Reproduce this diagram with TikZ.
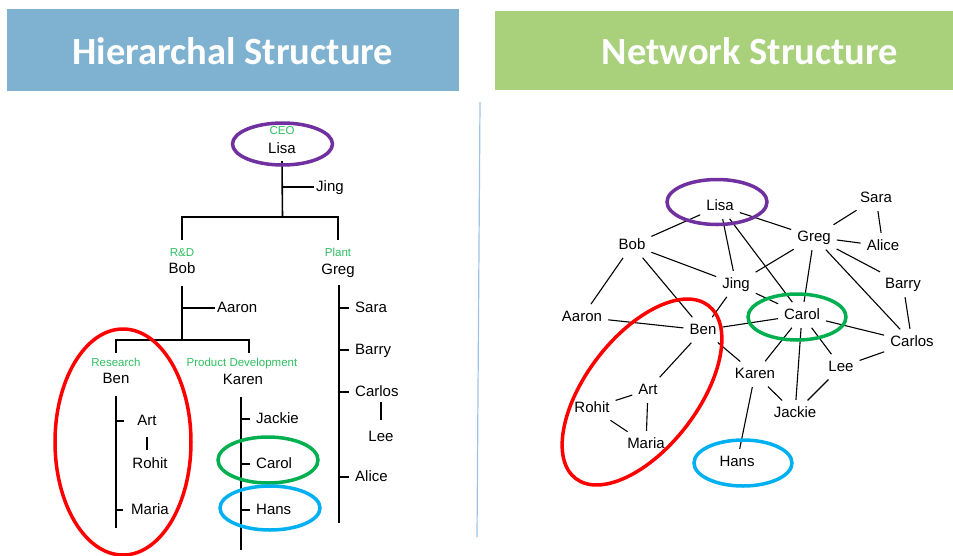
\documentclass[tikz,border=0pt]{standalone}
\usepackage{fontspec}
\setmainfont{Liberation Sans}
\newfontfamily\titlefont{Carlito}
\definecolor{hierblue}{RGB}{127,178,208}
\definecolor{netgreen}{RGB}{169,209,124}
\definecolor{deptgreen}{RGB}{46,190,96}
\definecolor{ringpurple}{RGB}{112,48,160}
\definecolor{ringred}{RGB}{255,0,0}
\definecolor{ringgreen}{RGB}{0,176,80}
\definecolor{ringblue}{RGB}{0,176,240}
\definecolor{sepblue}{RGB}{157,195,230}
\begin{document}
\begin{tikzpicture}[x=1pt,y=-1pt]
    \tikzset {
        person/.style = {font=\fontsize{15}{18}\selectfont, inner sep=2pt, text height=11pt, text depth=3pt},
        net person/.style = {person, inner sep=4pt},
        dept label/.style = {font=\fontsize{11.5}{14}\selectfont, text=deptgreen, inner sep=1pt, text height=8.5pt, text depth=2.5pt},
        header/.style = {font=\titlefont\bfseries\fontsize{38.5}{44}\selectfont, text=white},
        tree line/.style = {line width=1.6pt},
        net line/.style = {line width=1.1pt, shorten >=2pt, shorten <=2pt},
        ring/.style = {line width=3.5pt}
    }
    \useasboundingbox (0,0) rectangle (953,555);

    % headers
    \fill[hierblue] (7,9) rectangle (459,91);
    \fill[netgreen] (495,11) rectangle (953,90);
    \node[header] (hier title) at (233,51) {Hierarchal Structure};
    \node[header] (net title) at (750,51) {Network Structure};
    \draw[sepblue, line width=1.2pt] (480,102) -- (477,537);

    % hierarchy
    \node[dept label] (ceo) at (282,131) {CEO};
    \node[person] (lisa) at (282,149) {Lisa};
    \node[person, anchor=west] (jing) at (314,187) {Jing};
    \node[dept label] (rnd) at (182,253) {R\&D};
    \node[person] (bob) at (182,269) {Bob};
    \node[dept label] (plant) at (338,253) {Plant};
    \node[person] (greg) at (338,270) {Greg};
    \node[person, anchor=west] (aaron) at (215,308) {Aaron};
    \node[dept label] (research) at (116,363) {Research};
    \node[person] (ben) at (116,379) {Ben};
    \node[dept label] (prod) at (242,363) {Product Development};
    \node[person] (karen) at (243,380) {Karen};
    \node[person] (art) at (147,421) {Art};
    \node[person] (rohit) at (150,464) {Rohit};
    \node[person] (maria) at (150,510) {Maria};
    \node[person, anchor=west] (jackie) at (254,419) {Jackie};
    \node[person, anchor=west] (carol) at (254,464) {Carol};
    \node[person, anchor=west] (hans) at (254,510) {Hans};
    \node[person, anchor=west] (sara) at (353,308) {Sara};
    \node[person, anchor=west] (barry) at (353,350) {Barry};
    \node[person, anchor=west] (carlos) at (353,392) {Carlos};
    \node[person] (lee) at (381,437) {Lee};
    \node[person, anchor=west] (alice) at (353,477) {Alice};

    \coordinate (lisa bar) at (282.5,217);
    \draw[tree line] ([yshift=-3pt]lisa.south) -- (lisa bar);
    \draw[tree line] (lisa bar |- jing) -- (jing.west);
    \draw[tree line] ([yshift=6pt]rnd.north) |- (lisa bar) -| ([yshift=6pt]plant.north);

    \coordinate (bob bar) at (182,340);
    \draw[tree line] ([yshift=-8pt]bob.south) -- (bob bar);
    \draw[tree line] (bob bar |- aaron) -- (aaron.west);
    \draw[tree line] ([yshift=3.5pt]research.north) |- (bob bar) -| ([xshift=7pt,yshift=3.5pt]prod.north);

    \coordinate (ben top) at (116,396);
    \coordinate (ben end) at (116,528);
    \draw[tree line] (ben top) -- (ben end);
    \draw[tree line] (ben top |- art) -- ([xshift=-11pt]art.west);
    \draw[tree line] (ben top |- maria) -- ([xshift=-6pt]maria.west);
    \draw[tree line, shorten <=7pt, shorten >=5pt] (art.south) -- (art.south |- rohit.north);

    \coordinate (karen top) at (241,397);
    \coordinate (karen end) at (241,550);
    \draw[tree line] (karen top) -- (karen end);
    \foreach \who in {jackie, carol, hans}
        \draw[tree line] (karen top |- \who) -- ([xshift=-4pt]\who.west);

    \coordinate (greg top) at (339,285);
    \coordinate (greg end) at (339,523);
    \draw[tree line] (greg top) -- (greg end);
    \foreach \who in {sara, barry, carlos, alice}
        \draw[tree line] (greg top |- \who) -- ([xshift=-4pt]\who.west);
    \draw[tree line, shorten <=1pt, shorten >=8pt] (lee.north |- carlos.south) -- (lee.north);

    \draw[ring, ringpurple] (282.5,144) ellipse [x radius=50, y radius=21];
    \draw[ring, ringgreen] (268,460) ellipse [x radius=50, y radius=23];
    \draw[ring, ringblue] (270,508) ellipse [x radius=50, y radius=22];
    \draw[ring, ringred] (123,442) ellipse [x radius=68, y radius=113];

    % network
    \node[net person] (nlisa) at (720,206) {Lisa};
    \node[net person] (nsara) at (876,198) {Sara};
    \node[net person] (ngreg) at (814,237) {Greg};
    \node[net person] (nalice) at (883,246) {Alice};
    \node[net person] (nbob) at (632,245) {Bob};
    \node[net person] (njing) at (736,284) {Jing};
    \node[net person] (nbarry) at (903,284) {Barry};
    \node[net person] (naaron) at (582,317) {Aaron};
    \node[net person] (ncarol) at (802,315) {Carol};
    \node[net person] (nben) at (703,330) {Ben};
    \node[net person] (ncarlos) at (912,342) {Carlos};
    \node[net person] (nlee) at (841,367) {Lee};
    \node[net person] (nkaren) at (755,374) {Karen};
    \node[net person] (njackie) at (795,413) {Jackie};
    \node[net person] (nart) at (648,390) {Art};
    \node[net person] (nrohit) at (592,408) {Rohit};
    \node[net person] (nmaria) at (646,444) {Maria};
    \node[net person] (nhans) at (737,462) {Hans};

    \foreach \a/\b in {lisa/bob, lisa/jing, lisa/carol, lisa/greg,
                       sara/greg, sara/alice, greg/alice, greg/jing, greg/carol,
                       greg/barry, greg/carlos, barry/carlos,
                       bob/aaron, bob/jing, bob/ben, jing/ben, jing/carol,
                       aaron/ben, ben/carol, carol/carlos, carol/karen,
                       carol/jackie, carol/lee, lee/carlos, lee/jackie,
                       ben/karen, ben/art, karen/jackie, karen/hans,
                       art/rohit, art/maria, rohit/maria}
        \draw[net line] (n\a) -- (n\b);

    \draw[ring, ringpurple] (717,202) ellipse [x radius=50, y radius=22.5];
    \draw[ring, ringgreen] (797,317) ellipse [x radius=49, y radius=23];
    \draw[ring, ringblue] (743,463) ellipse [x radius=49, y radius=23];
    \draw[ring, ringred, rotate around={52.5:(642,392)}] (642,392) ellipse [x radius=109, y radius=56];
\end{tikzpicture}
\end{document}
